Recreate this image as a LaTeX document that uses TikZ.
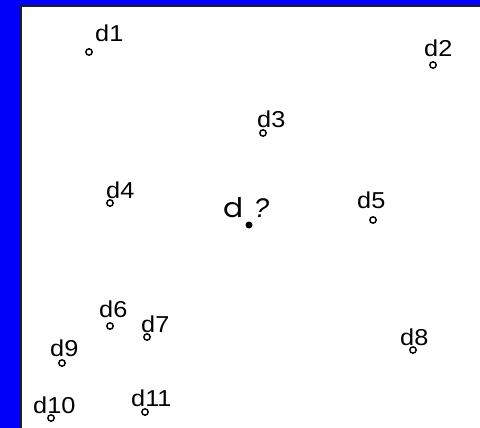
\documentclass[tikz,border=0pt]{standalone}
\usepackage{fontspec}
\setmainfont{Liberation Sans}
\newfontfamily\geofont{Poppins}
\usepackage{graphicx}
\definecolor{bgblue}{RGB}{0,0,250}
\definecolor{edgegray}{RGB}{30,30,40}
\tikzset{
  pt/.style={circle, draw=black, line width=1.4pt, inner sep=0pt, minimum size=6.4pt, fill=white},
  qpt/.style={circle, fill=black, inner sep=0pt, minimum size=7pt},
  lab/.style={anchor=base west, inner sep=0pt, font=\fontsize{23}{23}\selectfont},
}
\newcommand{\lbl}[1]{\scalebox{1.1}[1]{#1}}
\begin{document}
\begin{tikzpicture}[x=1pt,y=-1pt]
\useasboundingbox (0,0) rectangle (480,428);
\fill[bgblue] (0,0) rectangle (480,428);
\fill[white] (21,6) rectangle (480,428);
\draw[edgegray, line width=2pt] (21,428) -- (21,6) -- (480,6);
% points
\node[pt] (p1) at (89,52) {};
\node[pt] (p2) at (433,65) {};
\node[pt] (p3) at (263,133) {};
\node[pt] (p4) at (110,203) {};
\node[pt] (p5) at (373,220) {};
\node[pt] (p6) at (110,326) {};
\node[pt] (p7) at (147,337) {};
\node[pt] (p8) at (413,350) {};
\node[pt] (p9) at (62,363) {};
\node[pt] (p10) at (51,418) {};
\node[pt] (p11) at (145,412) {};
\node[qpt] (pq) at (249,225) {};
% labels
\node[lab] (l1) at (95,42) {\lbl{d1}};
\node[lab] (l2) at (424,57) {\lbl{d2}};
\node[lab] (l3) at (257,128) {\lbl{d3}};
\node[lab] (l4) at (106,198) {\lbl{d4}};
\node[lab] (l5) at (357,208) {\lbl{d5}};
\node[lab] (l6) at (99,317) {\lbl{d6}};
\node[lab] (l7) at (141,332) {\lbl{d7}};
\node[lab] (l8) at (400,345) {\lbl{d8}};
\node[lab] (l9) at (50,356) {\lbl{d9}};
\node[lab] (l10) at (33,413) {\lbl{d10}};
\node[lab] (l11) at (131,406) {\lbl{d11}};
\node[anchor=base west, inner sep=0pt, font=\geofont\fontsize{27}{27}\selectfont] (lqd) at (223,218) {\scalebox{1.1}[1]{d}};
\node[anchor=base west, inner sep=0pt, font=\itshape\fontsize{27}{27}\selectfont] (lqq) at (254,218) {?};
\end{tikzpicture}
\end{document}
